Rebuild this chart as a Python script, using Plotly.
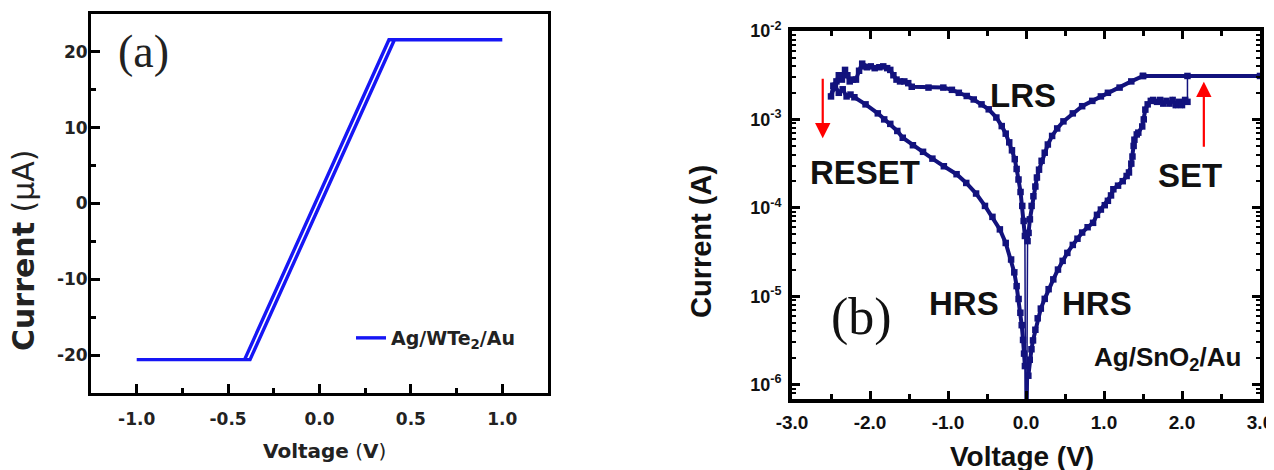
import plotly.graph_objects as go

# ---------------- Panel (a): Ag/WTe2/Au linear I-V (current in uA) ----------------
va = [0.0, 0.41, 1.0, 0.38, -0.41, -1.0, -0.38, 0.0]
ia = [-0.3, 21.6, 21.6, 21.6, -20.6, -20.6, -20.6, -0.3]
a_xticks = [-1.0, -0.5, 0.0, 0.5, 1.0]
a_xticktext = ["-1.0", "-0.5", "0.0", "0.5", "1.0"]
a_yticks = [-20, -10, 0, 10, 20]
a_yticktext = ["-20", "-10", "0", "10", "20"]

# ---------------- Panel (b): Ag/SnO2/Au resistive switching (log current in A) ----------------
# HRS, positive sweep up to SET
v_hrs_pos = [0.03, 0.048, 0.07, 0.09, 0.12, 0.15, 0.19, 0.24, 0.29, 0.35, 0.41, 0.47, 0.53, 0.60,
             0.66, 0.72, 0.79, 0.86, 0.91, 0.96, 1.01, 1.05, 1.09, 1.12, 1.18, 1.24, 1.29, 1.32,
             1.35, 1.365, 1.38, 1.39, 1.42, 1.44, 1.49, 1.51, 1.53, 1.56, 1.60, 1.63, 1.68, 1.72,
             1.76, 1.80, 1.84, 1.88, 1.92, 1.96, 2.00, 2.04, 2.07]
i_hrs_pos = [1.26e-6, 1.91e-6, 2.51e-6, 3.16e-6, 4.17e-6, 5.62e-6, 7.24e-6, 9.33e-6, 1.20e-5,
             1.55e-5, 2.0e-5, 2.51e-5, 3.09e-5, 3.80e-5, 4.47e-5, 5.25e-5, 6.03e-5, 6.76e-5,
             8.32e-5, 9.55e-5, 1.07e-4, 1.20e-4, 1.38e-4, 1.62e-4, 1.78e-4, 2.0e-4, 2.29e-4,
             2.51e-4, 3.16e-4, 3.80e-4, 5.01e-4, 5.89e-4, 6.76e-4, 7.08e-4, 8.32e-4, 1.0e-3,
             1.29e-3, 1.48e-3, 1.62e-3, 1.66e-3, 1.58e-3, 1.66e-3, 1.51e-3, 1.62e-3, 1.51e-3,
             1.66e-3, 1.45e-3, 1.58e-3, 1.45e-3, 1.66e-3, 1.58e-3]
# compliance plateau after SET
v_cc = [2.07, 3.0, 1.5]
i_cc = [3.1e-3, 3.1e-3, 3.1e-3]
# LRS, positive side back to 0
v_lrs_pos = [1.5, 1.35, 1.2, 1.05, 0.96, 0.85, 0.72, 0.6, 0.48, 0.4, 0.335, 0.28, 0.24, 0.2,
             0.167, 0.14, 0.12, 0.095, 0.072, 0.05, 0.033, 0.02]
i_lrs_pos = [3.1e-3, 2.69e-3, 2.29e-3, 2.0e-3, 1.82e-3, 1.62e-3, 1.41e-3, 1.17e-3, 9.5e-4,
             7.9e-4, 6.5e-4, 5.2e-4, 4.2e-4, 3.4e-4, 2.7e-4, 2.2e-4, 1.74e-4, 1.35e-4, 1.05e-4,
             7.4e-5, 5.2e-5, 4.2e-5]
# LRS, negative sweep down to RESET
v_lrs_neg = [-0.014, -0.03, -0.048, -0.07, -0.096, -0.12, -0.144, -0.18, -0.215, -0.26, -0.311,
             -0.38, -0.478, -0.57, -0.67, -0.76, -0.861, -0.95, -1.06, -1.25, -1.465, -1.51,
             -1.56, -1.615, -1.66, -1.70, -1.74, -1.78, -1.83, -1.88, -1.94, -1.99, -2.04,
             -2.086, -2.10, -2.14, -2.18, -2.22, -2.26, -2.29, -2.32, -2.36, -2.40, -2.43,
             -2.47, -2.50]
i_lrs_neg = [4.8e-5, 7.1e-5, 1.05e-4, 1.51e-4, 2.09e-4, 2.75e-4, 3.55e-4, 4.47e-4, 5.5e-4,
             6.9e-4, 8.4e-4, 1.05e-3, 1.30e-3, 1.48e-3, 1.68e-3, 1.84e-3, 2.0e-3, 2.16e-3,
             2.29e-3, 2.29e-3, 2.34e-3, 2.57e-3, 2.69e-3, 2.69e-3, 2.82e-3, 3.16e-3, 3.63e-3,
             3.8e-3, 3.98e-3, 3.89e-3, 3.8e-3, 3.98e-3, 3.89e-3, 3.98e-3, 4.27e-3, 3.55e-3,
             2.82e-3, 2.82e-3, 2.69e-3, 3.16e-3, 3.63e-3, 2.82e-3, 3.16e-3, 2.69e-3, 2.4e-3,
             1.82e-3]
# HRS, return from RESET to 0
v_hrs_neg = [-2.45, -2.40, -2.35, -2.30, -2.25, -2.20, -2.057, -1.9, -1.818, -1.74, -1.65,
             -1.58, -1.45, -1.32, -1.2, -1.053, -0.89, -0.766, -0.64, -0.526, -0.43, -0.335,
             -0.26, -0.191, -0.15, -0.12, -0.095, -0.072, -0.055, -0.038, -0.025, -0.014]
i_hrs_neg = [2.4e-3, 2.0e-3, 2.19e-3, 1.82e-3, 1.91e-3, 1.78e-3, 1.48e-3, 1.17e-3, 1.0e-3,
             8.9e-4, 7.4e-4, 6.2e-4, 5.1e-4, 4.3e-4, 3.6e-4, 2.95e-4, 2.4e-4, 1.91e-4, 1.45e-4,
             1.05e-4, 7.9e-5, 5.7e-5, 4.0e-5, 2.6e-5, 1.86e-5, 1.3e-5, 9.3e-6, 6.5e-6, 4.7e-6,
             3.2e-6, 2.24e-6, 1.62e-6]
# point at 0 V (current far below the axis range)
v_zero = [0.0]
i_zero = [1e-8]

b_xticks = [-3, -2, -1, 0, 1, 2, 3]
b_xticktext = ["-3.0", "-2.0", "-1.0", "0.0", "1.0", "2.0", "3.0"]
b_yticks = [1e-6, 1e-5, 1e-4, 1e-3, 1e-2]
b_yticktext = ["10<sup>-6</sup>", "10<sup>-5</sup>", "10<sup>-4</sup>", "10<sup>-3</sup>", "10<sup>-2</sup>"]
b_yminor = [m * d for d in [1e-7, 1e-6, 1e-5, 1e-4, 1e-3] for m in range(2, 10)]

BLUE_A = "rgb(22,22,245)"
NAVY = "rgb(18,18,125)"
SANS_B = "Liberation Sans, Arial, sans-serif"
SANS_A = "DejaVu Sans, sans-serif"
SERIF = "Liberation Serif, Times New Roman, serif"

# the page body has an 8 px margin: figure is sized so it still ends at the window edge
OFF = 8
W, H = 1274 - OFF, 470 - OFF


def px(X):
    return (X - OFF) / W


def py(Y):
    return 1 - (Y - OFF) / H


fig = go.Figure()

# panel (a) curve
fig.add_trace(go.Scatter(x=va, y=ia, mode="lines", line=dict(color=BLUE_A, width=3.4),
                         name="<b>Ag/WTe<sub>2</sub>/Au</b>", xaxis="x", yaxis="y",
                         showlegend=True))

# panel (b): thin connecting line through whole sweep (jumps and dips)
thin_v = v_hrs_pos + v_cc + v_lrs_pos + v_zero + v_lrs_neg + v_hrs_neg + v_zero + v_hrs_pos[:1]
thin_i = i_hrs_pos + i_cc + i_lrs_pos + i_zero + i_lrs_neg + i_hrs_neg + i_zero + i_hrs_pos[:1]
fig.add_trace(go.Scatter(x=thin_v, y=thin_i, mode="lines", line=dict(color=NAVY, width=1.5),
                         xaxis="x2", yaxis="y2", showlegend=False))
# panel (b): thick symbol-line branches
thick_v = v_hrs_pos + [None] + v_cc + v_lrs_pos + [None] + v_lrs_neg + v_hrs_neg
thick_i = i_hrs_pos + [None] + i_cc + i_lrs_pos + [None] + i_lrs_neg + i_hrs_neg
fig.add_trace(go.Scatter(x=thick_v, y=thick_i, mode="lines+markers",
                         line=dict(color=NAVY, width=4),
                         marker=dict(symbol="square", size=6.5, color=NAVY),
                         connectgaps=False, xaxis="x2", yaxis="y2", showlegend=False))

axis_common = dict(showgrid=False, zeroline=False, showline=True, linecolor="black",
                   ticks="inside", tickcolor="black", automargin=False)

fig.update_layout(
    width=W, height=H,
    margin=dict(l=0, r=0, t=0, b=0, autoexpand=False),
    paper_bgcolor="white", plot_bgcolor="white",
    xaxis=dict(**axis_common, domain=[px(91), px(548)], range=[-1.25, 1.25],
               tickvals=a_xticks, ticktext=a_xticktext, linewidth=3, mirror=True,
               ticklen=9, tickwidth=2.5, ticklabelposition="outside", ticklabelstandoff=9,
               tickfont=dict(family=SANS_A, size=17, color="#222", weight="bold"),
               minor=dict(ticks="inside", dtick=0.25, tick0=0, ticklen=5, tickwidth=2.5,
                          tickcolor="black"),
               anchor="y"),
    yaxis=dict(**axis_common, domain=[py(393), py(14)], range=[-25, 25],
               tickvals=a_yticks, ticktext=a_yticktext, linewidth=3, mirror=True,
               ticklen=9, tickwidth=2.5, ticklabelposition="outside",
               tickfont=dict(family=SANS_A, size=17, color="#222", weight="bold"),
               minor=dict(ticks="inside", dtick=5, tick0=0, ticklen=5, tickwidth=2.5,
                          tickcolor="black"),
               anchor="x"),
    xaxis2=dict(**axis_common, domain=[px(792), px(1260)], range=[-3, 3],
                tickvals=b_xticks, ticktext=b_xticktext, linewidth=4, mirror="ticks",
                ticklen=8, tickwidth=3, ticklabelstandoff=3,
                tickfont=dict(family=SANS_B, size=19, color="#111", weight="bold"),
                minor=dict(ticks="inside", dtick=0.5, tick0=0, ticklen=5, tickwidth=3,
                           tickcolor="black"),
                anchor="y2"),
    yaxis2=dict(**axis_common, type="log", domain=[py(399), py(31)], range=[-6.163, -2],
                tickvals=b_yticks, ticktext=b_yticktext, linewidth=4, mirror="ticks",
                ticklen=8, tickwidth=3, ticklabelstandoff=3,
                tickfont=dict(family=SANS_B, size=18, color="#111", weight="bold"),
                minor=dict(ticks="inside", tickvals=b_yminor, ticklen=4, tickwidth=2,
                           tickcolor="black"),
                anchor="x2"),
    legend=dict(x=px(351), y=py(338), xanchor="left", yanchor="middle",
                bgcolor="rgba(0,0,0,0)", borderwidth=0,
                font=dict(family=SANS_A, size=19, color="#222")),
    showlegend=True,
)
# bring panel (a) y tick labels a little closer to the axis
try:
    fig.update_yaxes(ticklabelstandoff=-3, selector=dict(anchor="x"))
except Exception:
    pass


def txt(text, x, y, size, family, color="#111", xref="paper", yref="paper", angle=0):
    return dict(text=text, x=x, y=y, xref=xref, yref=yref, showarrow=False,
                xanchor="center", yanchor="middle", textangle=angle,
                font=dict(family=family, size=size, color=color))


annotations = [
    # axis titles panel (a)
    txt("<b>Current</b> (μA)", px(23), py(250), 30, SANS_A, "#222", angle=-90),
    txt("<b>Voltage</b> (<b>V</b>)", px(324), py(451), 20, SANS_A, "#222"),
    # axis titles panel (b)
    txt("<b>Current (A)</b>", px(701), py(242), 29, SANS_B, angle=-90),
    txt("<b>Voltage (V)</b>", px(1022), py(456), 28, SANS_B),
    # panel labels
    txt("(a)", -0.962, 20.1, 46, SERIF, "#222", "x", "y"),
    txt("(b)", -2.107, -5.232, 52, SERIF, "#111", "x2", "y2"),
    # state labels panel (b)
    txt("<b>LRS</b>", -0.04, -2.724, 33, SANS_B, "#111", "x2", "y2"),
    txt("<b>RESET</b>", -2.06, -3.606, 33, SANS_B, "#111", "x2", "y2"),
    txt("<b>SET</b>", 2.10, -3.64, 33, SANS_B, "#111", "x2", "y2"),
    txt("<b>HRS</b>", -0.795, -5.088, 33, SANS_B, "#111", "x2", "y2"),
    txt("<b>HRS</b>", 0.906, -5.08, 33, SANS_B, "#111", "x2", "y2"),
    txt("<b>Ag/SnO<sub>2</sub>/Au</b>", 1.82, -5.70, 26, SANS_B, "#111", "x2", "y2"),
    # arrows
    dict(text="", x=-2.606, y=-3.214, ax=-2.606, ay=-2.524, xref="x2", yref="y2",
         axref="x2", ayref="y2", showarrow=True, arrowhead=2, arrowsize=1.4,
         arrowwidth=2.2, arrowcolor="red", standoff=0),
    dict(text="", x=2.28, y=-2.573, ax=2.28, ay=-3.327, xref="x2", yref="y2",
         axref="x2", ayref="y2", showarrow=True, arrowhead=2, arrowsize=1.4,
         arrowwidth=2.2, arrowcolor="red", standoff=0),
]
fig.update_layout(annotations=annotations)

fig.write_html("out.html")
